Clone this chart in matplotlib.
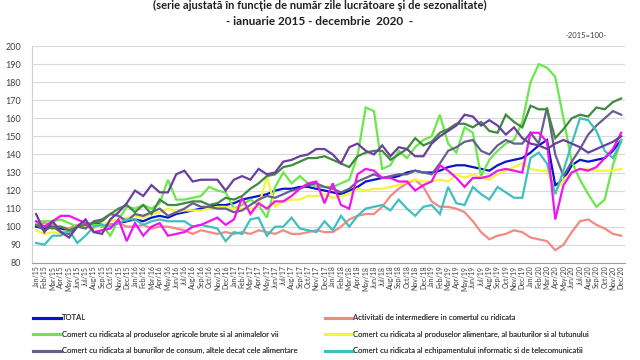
import matplotlib
matplotlib.use('Agg')
import matplotlib.pyplot as plt

luni = ['Jan', 'Feb', 'Mar', 'Apr', 'May', 'Jun', 'Jul', 'Aug', 'Sep', 'Oct', 'Nov', 'Dec']
ani = ['15', '16', '17', '18', '19', '20']
etichete = [l + '/' + a for a in ani for l in luni]

# valori (2015=100)
total = [100, 99, 101, 99, 98, 100, 101, 102, 101, 101, 102, 103,
         104, 103, 105, 106, 105, 107, 108, 109, 110, 111, 112, 112,
         113, 115, 116, 117, 118, 120, 121, 121, 122, 122, 121, 120,
         119, 118, 120, 122, 125, 126, 127, 127, 128, 130, 131, 130,
         130, 131, 133, 134, 134, 133, 132, 131, 134, 136, 137, 138,
         141, 145, 148, 123, 126, 134, 137, 136, 137, 138, 142, 148]
intermediere = [101, 102, 101, 100, 99, 101, 102, 101, 100, 101, 102, 100,
                100, 101, 99, 100, 100, 99, 98, 96, 98, 97, 96, 97,
                96, 97, 96, 98, 97, 96, 98, 96, 96, 97, 98, 97,
                97, 100, 104, 106, 107, 107, 111, 117, 121, 124, 126, 122,
                114, 111, 111, 110, 108, 103, 97, 93, 95, 96, 98, 97,
                94, 93, 92, 87, 90, 97, 103, 104, 101, 99, 96, 95]
agricole = [103, 103, 103, 104, 102, 100, 100, 101, 101, 95, 104, 111,
            110, 112, 110, 113, 126, 115, 115, 116, 117, 122, 120, 119,
            110, 112, 115, 112, 105, 122, 130, 124, 128, 124, 122, 122,
            122, 124, 126, 139, 166, 164, 132, 134, 142, 138, 144, 148,
            150, 162, 146, 141, 155, 152, 128, 137, 142, 146, 148, 158,
            180, 190, 188, 183, 160, 136, 126, 118, 111, 115, 134, 148]
alimentare = [98, 96, 97, 96, 98, 100, 100, 99, 101, 103, 104, 105,
              106, 105, 107, 108, 110, 108, 109, 109, 109, 110, 111, 111,
              110, 110, 110, 111, 128, 111, 114, 115, 115, 117, 117, 118,
              116, 117, 118, 121, 120, 121, 121, 122, 123, 125, 126, 125,
              125, 126, 125, 129, 127, 129, 127, 126, 129, 131, 133, 135,
              132, 131, 131, 119, 126, 130, 132, 132, 131, 131, 131, 132]
consum = [101, 98, 100, 97, 96, 100, 99, 103, 104, 107, 106, 103,
          107, 106, 108, 110, 106, 108, 110, 113, 111, 111, 110, 110,
          108, 109, 112, 115, 117, 116, 118, 120, 121, 123, 124, 122,
          121, 119, 121, 125, 127, 129, 127, 128, 129, 129, 131, 130,
          129, 135, 142, 144, 147, 148, 142, 140, 145, 148, 146, 146,
          152, 146, 166, 140, 128, 136, 143, 151, 156, 160, 164, 162]
informatic = [91, 90, 95, 95, 98, 91, 95, 100, 101, 100, 102, 104,
              104, 101, 103, 104, 103, 103, 103, 100, 101, 100, 99, 92,
              97, 96, 104, 105, 95, 100, 100, 105, 99, 98, 97, 103,
              98, 106, 100, 106, 110, 111, 112, 109, 115, 110, 106, 111,
              112, 107, 122, 113, 112, 122, 118, 115, 122, 119, 116, 116,
              138, 141, 135, 118, 131, 146, 160, 159, 153, 142, 138, 147]
masini = [101, 100, 99, 100, 98, 100, 101, 102, 103, 107, 110, 112,
          108, 112, 107, 115, 112, 112, 113, 114, 114, 112, 113, 116,
          115, 117, 121, 124, 128, 129, 133, 134, 136, 138, 138, 139,
          137, 135, 133, 139, 141, 142, 142, 137, 140, 143, 149, 145,
          147, 152, 154, 157, 157, 155, 158, 153, 152, 162, 158, 155,
          167, 165, 165, 149, 154, 160, 162, 161, 166, 165, 169, 171]
specializat = [103, 100, 103, 106, 106, 104, 102, 97, 98, 99, 104, 92,
               102, 95, 100, 102, 95, 96, 97, 100, 101, 103, 105, 101,
               104, 116, 107, 113, 110, 114, 114, 117, 121, 124, 125, 113,
               124, 112, 110, 129, 132, 131, 127, 127, 125, 125, 120, 123,
               125, 134, 131, 127, 122, 127, 127, 128, 131, 132, 131, 130,
               152, 152, 147, 104, 123, 130, 132, 131, 133, 138, 143, 152]
nespecializat = [107, 97, 103, 97, 94, 100, 104, 97, 96, 104, 108, 113,
                 120, 117, 123, 119, 119, 129, 131, 125, 126, 126, 126, 120,
                 126, 128, 126, 132, 129, 130, 136, 137, 139, 140, 143, 143,
                 140, 135, 144, 146, 142, 140, 145, 139, 144, 143, 139, 139,
                 146, 150, 153, 156, 162, 161, 156, 159, 156, 151, 155, 149,
                 146, 145, 143, 146, 148, 146, 144, 141, 143, 145, 147, 150]

serii = [
    ('TOTAL', total, '#0a14c8'),
    ('Activitati de intermediere in comertul cu ridicata', intermediere, '#f28a82'),
    ('Comert cu ridicata al produselor agricole brute si al animalelor vii', agricole, '#6ae84a'),
    ('Comert cu ridicata al produselor alimentare, al bauturilor si al tutunului', alimentare, '#f4f43a'),
    ('Comert cu ridicata al bunurilor de consum, altele decat cele alimentare', consum, '#66608f'),
    ('Comert cu ridicata al echipamentului informatic si de telecomunicatii', informatic, '#3ec0c0'),
    ('Comert cu ridicata al altor masini, echipamente si furnituri', masini, '#3f8a3f'),
    ('Comert cu ridicata specializat al altor produse', specializat, '#f014f0'),
    ('Comert cu ridicata nespecializat', nespecializat, '#6b3f9c'),
]

plt.rcParams['font.family'] = ['Lato', 'DejaVu Sans']

fig = plt.figure(figsize=(6.4, 3.6), dpi=100)
ax = fig.add_axes([0.05, 0.27, 0.927, 0.602])

x = list(range(len(etichete)))
linii = {}
for nume, val, cul in serii:
    linii[nume], = ax.plot(x, val, color=cul, lw=1.6, solid_joinstyle='miter')

ax.set_xlim(-0.5, len(etichete) - 0.5)
ax.set_ylim(80, 200)
ax.set_yticks(range(80, 201, 10))
ax.set_xticks(x)
ax.set_xticklabels(etichete, rotation=90, fontsize=5, color='#404040')
ax.tick_params(axis='y', labelsize=6.5, colors='#404040', length=0, pad=8)
ax.tick_params(axis='x', length=0, pad=2)
ax.grid(axis='y', color='#d9d9d9', lw=0.8)
ax.set_axisbelow(True)
for s in ['top', 'right']:
    ax.spines[s].set_visible(False)
ax.spines['left'].set_color('#d0d0d0')
ax.spines['bottom'].set_color('#a0a0a0')

fig.text(0.5, 0.999, '(serie ajustată în funcţie de număr zile lucrătoare şi de sezonalitate)',
         ha='center', va='top', fontsize=8, fontweight='bold', color='#202020')
fig.text(0.5, 0.94, '- ianuarie 2015 - decembrie  2020  -', ha='center', va='center',
         fontsize=8.5, fontweight='bold', color='#202020')
fig.text(0.915, 0.902, '-2015=100-', ha='center', va='center', fontsize=5.5, color='#404040')

nume_st = [serii[0][0], serii[2][0], serii[4][0]]
nume_dr = [serii[1][0], serii[3][0], serii[5][0]]
for noms, xa in [(nume_st, 0.052), (nume_dr, 0.508)]:
    leg = fig.legend([linii[n] for n in noms], noms, loc='upper left',
                     bbox_to_anchor=(xa, 0.127), frameon=False, fontsize=5.5,
                     handlelength=3.6, handletextpad=0.1, labelspacing=1.25,
                     borderaxespad=0, borderpad=0, labelcolor='#404040')
    for h in leg.legend_handles:
        h.set_linewidth(2.2)
    fig.add_artist(leg)

fig.savefig('out.png', dpi=100)
